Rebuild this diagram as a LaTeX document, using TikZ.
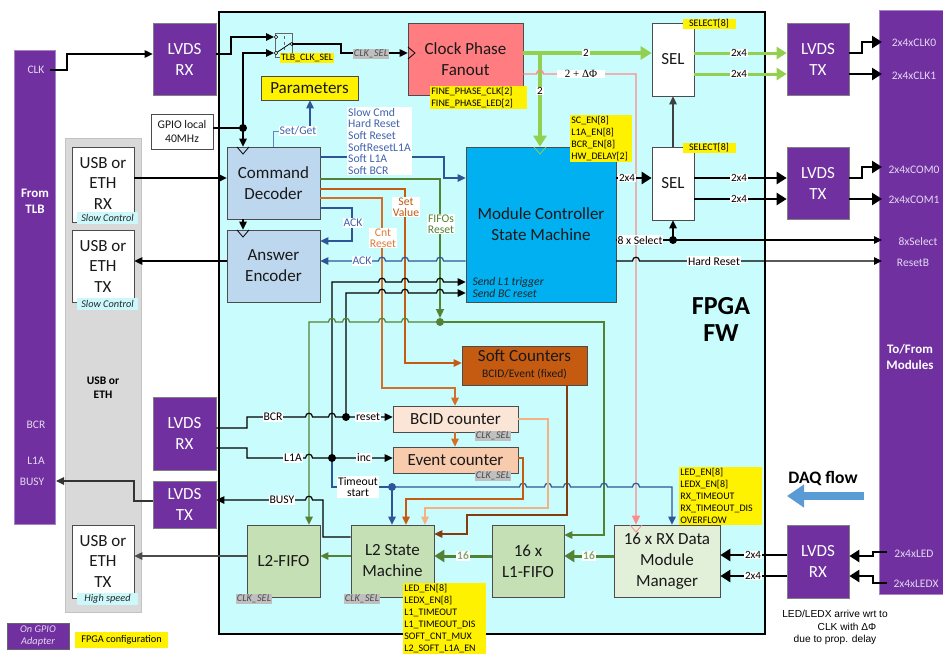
\documentclass[tikz,border=0pt]{standalone}
\usepackage{fontspec}
\setmainfont{Carlito}
\newfontfamily\arialf{Liberation Sans}
\newfontfamily\timesf{Liberation Serif}
\usetikzlibrary{arrows.meta}
\newcommand\fsz[2]{\fontsize{#1}{#2}\selectfont}
\newcommand\jr[2]{-- ({#1-3.5},#2) .. controls ({#1-3.5},{#2-5}) and ({#1+3.5},{#2-5}) .. ({#1+3.5},#2)}
\newcommand\jl[2]{-- ({#1+3.5},#2) .. controls ({#1+3.5},{#2-5}) and ({#1-3.5},{#2-5}) .. ({#1-3.5},#2)}
\newcommand\ckdown[3]{\draw[#3, line width=0.8pt] ({#1-6},#2) -- (#1,{#2+7}) -- ({#1+6},#2);}
\definecolor{purp}{HTML}{7030A0}
\definecolor{barw}{HTML}{E4D8F2}
\definecolor{band}{HTML}{D9D9D9}
\definecolor{fpgac}{HTML}{C9FCFD}
\definecolor{lblue}{HTML}{BDD7EE}
\definecolor{mcblue}{HTML}{00B0F0}
\definecolor{salmon}{HTML}{FF7C80}
\definecolor{softc}{HTML}{C55A11}
\definecolor{bcidc}{HTML}{FBE5D6}
\definecolor{evtc}{HTML}{F8CBAD}
\definecolor{gbox}{HTML}{C5E0B4}
\definecolor{rxc}{HTML}{E2F0D9}
\definecolor{lgreen}{HTML}{92D050}
\definecolor{dgreen}{HTML}{548235}
\definecolor{lnblue}{HTML}{2F5597}
\definecolor{txblue}{HTML}{4164AE}
\definecolor{pinkl}{HTML}{FF8B8B}
\definecolor{cntc}{HTML}{D46F28}
\definecolor{cntt}{HTML}{E07B39}
\definecolor{peach}{HTML}{F4B183}
\definecolor{brownl}{HTML}{843C0C}
\definecolor{gray1}{HTML}{BFBFBF}
\definecolor{cyanl}{HTML}{CCF8FB}
\definecolor{daqb}{HTML}{5B9BD5}
\tikzset{
 bx/.style={draw=black!70, line width=0.7pt, inner sep=0pt, align=center, font=\fsz{17}{21}, text=black!90},
 pbox/.style={bx, fill=purp, text=white, draw=black!50},
 lw/.style={line width=1.2pt},
 ln/.style={line width=1.2pt, draw=black},
 arr/.style={-{Triangle[width=7.5pt,length=8pt]}},
 tka/.style={line width=2.6pt, -{Triangle[width=12pt,length=10pt]}},
 wl/.style={fill=white, inner sep=0.8pt, font=\fsz{11}{12}},
 sl/.style={fill=white, inner sep=0.8pt, font=\fsz{11.7}{11.3}, align=center},
 yl/.style={fill=yellow, inner sep=1.2pt, font=\fsz{10}{12}, align=left, anchor=north west},
 gl/.style={fill=gray1, text=black!70, inner sep=1.3pt, font=\fsz{10.3}{11}\itshape},
 cl/.style={fill=cyanl, text=black!85, inner sep=0pt, minimum width=61, minimum height=12, font=\fsz{10.3}{11}\itshape},
 dotn/.style={circle, fill, inner sep=0pt, minimum size=8pt},
 bart/.style={text=barw, font=\fsz{11.5}{13}},
 bartb/.style={text=white, font=\fsz{13}{16}\bfseries, align=center},
}
\begin{document}
\begin{tikzpicture}[x=1pt,y=-1pt]
\useasboundingbox (0,0) rectangle (943,656);
\fill[white] (0,0) rectangle (943,656);
% ---------- backgrounds
\node[fill=band, draw=band!90!black, line width=0.5pt, minimum width=76, minimum height=474, inner sep=0] (bandn) at (103,375) {};
\node[fill=purp, draw=purp!60, minimum width=41, minimum height=474, inner sep=0] (tlb) at (34.5,287) {};
\node[fill=purp, draw=purp!60, minimum width=64, minimum height=584, inner sep=0] (mods) at (911,302) {};
\node[draw=black, line width=2.4pt, fill=fpgac, minimum width=546, minimum height=622, inner sep=0] (fpga) at (492,323) {};
% ---------- boxes
\node[bx, fill=white, minimum width=62, minimum height=75] (usbrx) at (103,184.5) {};
\node[bx, fill=white, minimum width=62, minimum height=72] (usbtx) at (103,266) {};
\node[bx, fill=white, minimum width=62, minimum height=73] (usbhs) at (103,561.5) {};
\node[align=center, font=\fsz{17}{20.5}, text=black!90] at (103,183) {USB or\\ETH\\RX};
\node[align=center, font=\fsz{17}{20.5}, text=black!90] at (103,266) {USB or\\ETH\\TX};
\node[align=center, font=\fsz{17}{20.5}, text=black!90] at (103,561) {USB or\\ETH\\TX};
\node[cl] (sc1) at (107.5,217.5) {Slow Control};
\node[cl] (sc2) at (107.5,304) {Slow Control};
\node[cl] (hs) at (107.5,598.5) {High speed};
\node[align=center, font=\fsz{11.5}{14}\bfseries] (usbeth) at (103,388) {USB or\\ETH};
\node[pbox, minimum width=63, minimum height=72] (lrx1) at (184.5,59) {LVDS\\RX};
\node[pbox, minimum width=63, minimum height=73] (lrx2) at (184.5,433.5) {LVDS\\RX};
\node[pbox, minimum width=63, minimum height=47] (ltx1) at (184.5,504.5) {LVDS\\TX};
\node[bx, fill=white, minimum width=62, minimum height=35, font=\fsz{11.7}{14}] (gpio) at (182,131.5) {GPIO local\\40MHz};
\node[pbox, minimum width=62, minimum height=72] (ltxA) at (818,59) {LVDS\\TX};
\node[pbox, minimum width=62, minimum height=72] (ltxB) at (818,183) {LVDS\\TX};
\node[pbox, minimum width=62, minimum height=73] (lrxR) at (818,561.5) {LVDS\\RX};
\node[bx, fill=yellow, minimum width=97, minimum height=24] (param) at (309.5,88) {Parameters};
\node[bx, fill=lblue, minimum width=93, minimum height=72] (cd) at (273.5,183) {Command\\Decoder};
\node[bx, fill=lblue, minimum width=93, minimum height=72] (ae) at (273.5,266) {Answer\\Encoder};
\node[bx, fill=salmon, minimum width=115, minimum height=72] (cpf) at (465.5,59) {Clock Phase\\Fanout};
\node[bx, fill=mcblue, minimum width=150, minimum height=155] (mc) at (541,224.5) {Module Controller\\State Machine};
\node[bx, fill=white, minimum width=42, minimum height=73] (selA) at (673,59.5) {SEL};
\node[bx, fill=white, minimum width=42, minimum height=73] (selB) at (673,183.5) {SEL};
\node[bx, fill=softc, minimum width=125, minimum height=39] (soft) at (524.5,365.5) {};
\node[font=\fsz{17}{20}, text=black!90] (softt) at (524.5,356) {Soft Counters};
\node[font=\fsz{11.5}{13}, text=black!90] (softs) at (524.5,374) {BCID/Event (fixed)};
\node[bx, fill=bcidc, minimum width=125, minimum height=26] (bcid) at (455.5,419) {BCID counter};
\node[bx, fill=evtc, minimum width=125, minimum height=26] (evt) at (455.5,460) {Event counter};
\node[bx, fill=gbox, minimum width=73, minimum height=72] (l2f) at (283.5,561) {L2-FIFO};
\node[bx, fill=gbox, minimum width=83, minimum height=72] (l2sm) at (392.5,561) {L2 State\\Machine};
\node[bx, fill=gbox, minimum width=72, minimum height=72] (l1f) at (528,561) {16 x\\L1-FIFO};
\node[bx, fill=rxc, minimum width=106, minimum height=72] (rxdmm) at (667,561) {16 x RX Data\\Module\\Manager};
% switch
\node[draw=black!60, line width=0.6pt, minimum width=17, minimum height=24, inner sep=0] (sw) at (283.5,45) {};
\draw[black!60, line width=0.6pt, dashed] (284,36) -- (284,50);
\draw[black, line width=0.8pt] (276,53) -- (291,43);
\draw[black, fill=white, line width=0.5pt] (276,37) circle (1.8) (276,53) circle (1.8) (292,44) circle (1.8);
% clock triangles
\ckdown{243}{147}{black}
\ckdown{243}{230}{black}
\ckdown{540}{147}{lgreen}
\ckdown{636}{525}{pinkl}
\draw[black, line width=0.8pt] (408,47) -- (415,53) -- (408,59);
% ---------- connectors
\draw[ln,arr] (50,70) -- (67,70) -- (67,54) -- (lrx1.west |- 0,54);
\draw[ln,arr] (lrx1.east |- 0,54) -- (231,54) -- (231,37) -- (274,37);
\draw[ln] (gpio.east |- 0,128) -- (243,128);
\draw[ln,arr] (243,128) -- (243,53) -- (274,53);
\draw[ln,arr] (243,128) -- (cd.north -| 243,0);
\node[dotn] (gdot) at (243,128) {};
\draw[ln,arr] (292,44) -- (341,44) -- (341,53) -- (cpf.west |- 0,53);
\draw[lgreen, line width=3.5pt, -{Triangle[width=13pt,length=11pt]}] (cpf.east |- 0,53) -- (selA.west |- 0,53);
\draw[lgreen, line width=3.5pt, -{Triangle[width=13pt,length=11pt]}] (540,53) -- (mc.north -| 540,0);
\draw[pinkl, line width=1.4pt, -{Triangle[width=8pt,length=9pt]}] (cpf.east |- 0,74) \jr{540}{74} -- (636,74) -- (rxdmm.north -| 636,0);
\draw[lgreen, line width=3pt, -{Triangle[width=12pt,length=10pt]}] (selA.east |- 0,53) -- (ltxA.west |- 0,53);
\draw[lgreen, line width=3pt, -{Triangle[width=12pt,length=10pt]}] (selA.east |- 0,74) -- (ltxA.west |- 0,74);
\draw[tka] (ltxA.east |- 0,53) -- (862,53) -- (862,42) -- (882,42);
\draw[tka] (ltxA.east |- 0,74) -- (882,74);
\draw[tka] (selB.east |- 0,178) -- (ltxB.west |- 0,178);
\draw[tka] (selB.east |- 0,199) -- (ltxB.west |- 0,199);
\draw[tka] (ltxB.east |- 0,178) -- (862,178) -- (862,167) -- (882,167);
\draw[tka] (ltxB.east |- 0,199) -- (882,199);
\draw[tka] (mc.east |- 0,178) -- (selB.west |- 0,178);
\draw[black!75, line width=1.1pt, arr] (selB.north) -- (selA.south);
\draw[ln] (mc.east |- 0,240) -- (673,240);
\draw[ln,arr] (673,240) -- (selB.south);
\draw[ln,arr] (673,240) -- (882,240);
\node[dotn] (sdot) at (673,240) {};
\draw[ln,arr] (mc.east |- 0,261) \jr{636}{261} -- (882,261);
\draw[ln,arr] (usbrx.east |- 0,178) -- (cd.west |- 0,178);
\draw[ln,arr] (ae.west |- 0,261) -- (usbtx.east |- 0,261);
\draw[ln,arr] (cd.south -| 243,0) -- (ae.north -| 243,0);
\draw[txblue!80, line width=1pt] (cd.north -| 273,0) -- (273,131) -- (310,131);
\draw[lnblue, lw, arr] (310,131) -- (param.south -| 310,0);
\draw[lnblue, lw, arr] (cd.east |- 0,157) -- (444,157) -- (444,178) -- (mc.west |- 0,178);
\draw[dgreen, lw, -{Triangle[width=8pt,length=9pt]}] (cd.east |- 0,179) -- (440,179) -- (440,318);
\draw[softc, lw, arr] (cd.east |- 0,189) -- (405,189) -- (405,363) -- (soft.west |- 0,363);
\draw[cntc, lw, arr] (cd.east |- 0,198) -- (382,198) -- (382,388) -- (455,388) -- (bcid.north -| 455,0);
\draw[cntc, lw, arr] (bcid.south -| 455,0) -- (evt.north -| 455,0);
\draw[lnblue, lw, arr] (cd.east |- 0,208) -- (352,208) -- (352,241) -- (ae.east |- 0,241);
\draw[lnblue, lw, arr] (mc.west |- 0,261) \jl{440}{261} \jl{405}{261} \jl{382}{261} -- (ae.east |- 0,261);
\draw[ln,arr] (332,458) -- (332,282) \jr{382}{282} \jr{405}{282} \jr{440}{282} -- (mc.west |- 0,282);
\draw[ln,arr] (346,417) -- (346,293) \jr{382}{293} \jr{405}{293} \jr{440}{293} -- (mc.west |- 0,293);
\draw[dgreen, lw, arr] (440,322) \jl{405}{322} \jl{382}{322} \jl{346}{322} \jl{332}{322} -- (309,322) -- (l2f.north -| 309,0);
\draw[dgreen, lw, arr] (440,322) -- (604,322) -- (604,535) -- (l1f.east |- 0,535);
\node[dotn, fill=dgreen] (fdot) at (440,322) {};
\draw[ln,arr] (lrx2.east |- 0,428) -- (247,428) -- (247,417) \jr{309}{417} \jr{332}{417} -- (bcid.west |- 0,417);
\node[dotn] (bdot) at (346,417) {};
\draw[ln,arr] (lrx2.east |- 0,448) -- (247,448) -- (247,458) \jr{309}{458} -- (evt.west |- 0,458);
\draw[lnblue, lw] (332,458) -- (332,487) -- (392,487);
\draw[lnblue, lw, arr] (392,487) \jr{523}{487} \jr{548}{487} \jr{567}{487} \jr{604}{487} \jr{636}{487} -- (672,487) -- (rxdmm.north -| 672,0);
\draw[lnblue, lw, arr] (392,487) -- (l2sm.north -| 392,0);
\node[dotn] (ldot) at (332,458) {};
\node[dotn, fill=lnblue] (tdot) at (392,487) {};
\draw[peach, lw, arr] (bcid.east |- 0,419) -- (548,419) -- (548,508) -- (425,508) -- (l2sm.north -| 425,0);
\draw[softc, lw, arr] (evt.east |- 0,458) -- (523,458) -- (523,499) -- (406,499) -- (l2sm.north -| 406,0);
\draw[brownl, lw, arr] (soft.south -| 567,0) -- (567,515) -- (467,515) -- (467,534) -- (l2sm.east |- 0,534);
\draw[ln,arr] (l2sm.west |- 0,537) -- (323,537) -- (323,500) \jl{309}{500} -- (ltx1.east |- 0,500);
\draw[black!80, lw, arr] (ltx1.west |- 0,501) -- (134,501) -- (134,481) -- (56,481);
\draw[black!70, lw, arr] (l2f.west |- 0,556) -- (usbhs.east |- 0,556);
\draw[dgreen, lw, arr] (l2sm.west |- 0,556) -- (l2f.east |- 0,556);
\draw[dgreen, line width=3pt, -{Triangle[width=12pt,length=10pt]}] (l1f.west |- 0,556) -- (l2sm.east |- 0,556);
\draw[dgreen, line width=3pt, -{Triangle[width=12pt,length=10pt]}] (rxdmm.west |- 0,556) -- (l1f.east |- 0,556);
\draw[tka] (lrxR.west |- 0,555) -- (rxdmm.east |- 0,555);
\draw[tka] (lrxR.west |- 0,576) -- (rxdmm.east |- 0,576);
\draw[tka] (887,552) -- (873,552) -- (873,556) -- (lrxR.east |- 0,556);
\draw[tka] (887,583) -- (873,583) -- (873,576) -- (lrxR.east |- 0,576);
\draw[daqb, line width=8pt, -{Triangle[width=22pt,length=17pt]}] (864,496) -- (787,496);
% ---------- labels
\node[wl] at (586,53) {2};
\node[wl] at (540,91) {2};
\node[wl, inner xsep=8pt, font=\timesf\fsz{11}{12}] at (581,74) {2 + ΔΦ};
\node[wl] at (739,53) {2x4};
\node[wl] at (739,74) {2x4};
\node[wl] at (739,178) {2x4};
\node[wl] at (739,199) {2x4};
\node[wl] at (627,178) {2x4};
\node[wl] at (753,555) {2x4};
\node[wl] at (753,576) {2x4};
\node[sl] at (640,240) {8 x Select};
\node[sl] at (714,261) {Hard Reset};
\node[sl, text=txblue] at (298,131) {Set/Get};
\node[fill=white, inner sep=1pt, anchor=north west, align=left, text=txblue, font=\fsz{11.7}{11.6}] (cmds) at (347,107) {Slow Cmd\\Hard Reset\\Soft Reset\\SoftResetL1A\\Soft L1A\\Soft BCR};
\node[sl, text=dgreen] at (441,224) {FIFOs\\Reset};
\node[sl, text=softc] at (406,207) {Set\\Value};
\node[sl, text=cntt] at (383,238) {Cnt\\Reset};
\node[sl, text=txblue] at (353,223) {ACK};
\node[sl, text=txblue] at (362,261) {ACK};
\node[sl] at (273,417) {BCR};
\node[sl] at (368,417) {reset};
\node[sl] at (293,458) {L1A};
\node[sl] at (364,458) {inc};
\node[sl] at (282,500) {BUSY};
\node[sl] at (358,487) {Timeout\\start};
\node[wl, text=dgreen!70, font=\fsz{11.5}{12}\bfseries] at (463,556) {16};
\node[wl, text=dgreen!70, font=\fsz{11.5}{12}\bfseries] at (589,556) {16};
\node[anchor=west, font=\fsz{11.7}{12}\itshape, text=black!85] at (469,282) {Send L1 trigger};
\node[anchor=west, font=\fsz{11.7}{12}\itshape, text=black!85] at (469,293) {Send BC reset};
\node[gl] at (371,54) {CLK\_SEL};
\node[gl] at (493,436) {CLK\_SEL};
\node[gl] at (493,476) {CLK\_SEL};
\node[gl] at (254,599) {CLK\_SEL};
\node[gl] at (362,599) {CLK\_SEL};
\node[fill=yellow, inner sep=1pt, font=\fsz{9.8}{11}] at (307,58) {TLB\_CLK\_SEL};
\node[yl, text width=94.6pt] at (430,86) {FINE\_PHASE\_CLK[2]\\FINE\_PHASE\_LED[2]};
\node[yl, text width=59.6pt] at (570,115) {SC\_EN[8]\\L1A\_EN[8]\\BCR\_EN[8]\\HW\_DELAY[2]};
\node[fill=yellow, inner sep=1pt, font=\fsz{10}{12}, minimum width=53] at (709,24) {SELECT[8]};
\node[fill=yellow, inner sep=1pt, font=\fsz{10}{12}, minimum width=53] at (709,148) {SELECT[8]};
\node[yl, text width=80.6pt] at (403,583) {LED\_EN[8]\\LEDX\_EN[8]\\L1\_TIMEOUT\\L1\_TIMEOUT\_DIS\\SOFT\_CNT\_MUX\\L2\_SOFT\_L1A\_EN};
\node[yl, text width=80.6pt] at (679,467) {LED\_EN[8]\\LEDX\_EN[8]\\RX\_TIMEOUT\\RX\_TIMEOUT\_DIS\\OVERFLOW};
\node[align=center, font=\fsz{26}{27}\bfseries] (fw) at (721,319) {FPGA\\FW};
\node[font=\fsz{17.5}{20}\bfseries] (daq) at (823,478) {DAQ flow};
\node[font=\arialf\fsz{10.2}{13}] at (835,614) {LED/LEDX arrive wrt to};
\node[font=\arialf\fsz{10.2}{13}] at (847,627) {CLK with ΔΦ};
\node[font=\arialf\fsz{10.2}{13}] at (835,640) {due to prop. delay};
% bar texts
\node[bart] at (36,70) {CLK};
\node[bartb] at (35,201) {From\\TLB};
\node[bart] at (36,425) {BCR};
\node[bart] at (36,461) {L1A};
\node[bart] at (32,482) {BUSY};
\node[bart] at (914,43) {2x4xCLK0};
\node[bart] at (914,76) {2x4xCLK1};
\node[bart] at (914,170) {2x4xCOM0};
\node[bart] at (914,200) {2x4xCOM1};
\node[bart] at (918,242) {8xSelect};
\node[bart] at (913,263) {ResetB};
\node[bartb] at (910,357) {To/From\\Modules};
\node[bart] at (914,554) {2x4xLED};
\node[bart] at (916,584) {2x4xLEDX};
% legend
\node[fill=purp, draw=black!60, line width=0.6pt, minimum width=62, minimum height=26, inner sep=0, align=center, text=barw, font=\fsz{10.3}{12.5}\itshape] (leg1) at (38,636) {On GPIO\\Adapter};
\node[fill=yellow, minimum width=93, minimum height=16, inner sep=0, font=\fsz{10.3}{12}] (leg2) at (121.5,640) {FPGA configuration};
\end{tikzpicture}
\end{document}
